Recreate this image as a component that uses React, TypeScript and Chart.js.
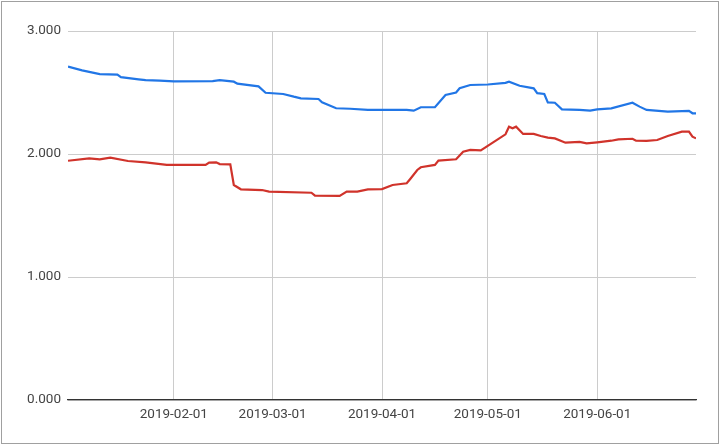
import React, { useEffect, useRef } from "react";
import { Chart, registerables } from "chart.js";

Chart.register(...registerables);

const blueDates = [
  "2019-01-02", "2019-01-06", "2019-01-11", "2019-01-16", "2019-01-17", "2019-01-22",
  "2019-01-24", "2019-01-28", "2019-02-01", "2019-02-12", "2019-02-14", "2019-02-18",
  "2019-02-19", "2019-02-25", "2019-02-27", "2019-03-04", "2019-03-07", "2019-03-09",
  "2019-03-14", "2019-03-15", "2019-03-19", "2019-03-23", "2019-03-28", "2019-04-08",
  "2019-04-10", "2019-04-12", "2019-04-16", "2019-04-19", "2019-04-22", "2019-04-23",
  "2019-04-26", "2019-05-01", "2019-05-06", "2019-05-07", "2019-05-10", "2019-05-14",
  "2019-05-15", "2019-05-17", "2019-05-18", "2019-05-20", "2019-05-22", "2019-05-27",
  "2019-05-30", "2019-06-01", "2019-06-05", "2019-06-11", "2019-06-13", "2019-06-15",
  "2019-06-21", "2019-06-27", "2019-06-28", "2019-06-29",
];
const blueValues = [
  2.71, 2.68, 2.65, 2.645, 2.625, 2.607,
  2.6, 2.596, 2.59, 2.593, 2.6, 2.588,
  2.572, 2.55, 2.498, 2.488, 2.466, 2.453,
  2.447, 2.42, 2.372, 2.368, 2.358, 2.358,
  2.352, 2.38, 2.38, 2.48, 2.5, 2.534,
  2.561, 2.565, 2.578, 2.588, 2.555, 2.534,
  2.495, 2.488, 2.42, 2.417, 2.363, 2.358,
  2.352, 2.363, 2.371, 2.417, 2.385, 2.358,
  2.344, 2.35, 2.331, 2.331,
];

const redDates = [
  "2019-01-02", "2019-01-08", "2019-01-11", "2019-01-14", "2019-01-19", "2019-01-24",
  "2019-01-30", "2019-02-10", "2019-02-11", "2019-02-13", "2019-02-14", "2019-02-17",
  "2019-02-18", "2019-02-20", "2019-02-26", "2019-02-28", "2019-03-12", "2019-03-13",
  "2019-03-20", "2019-03-22", "2019-03-25", "2019-03-28", "2019-04-01", "2019-04-04",
  "2019-04-08", "2019-04-09", "2019-04-11", "2019-04-12", "2019-04-16", "2019-04-17",
  "2019-04-22", "2019-04-24", "2019-04-26", "2019-04-29", "2019-05-06", "2019-05-07",
  "2019-05-08", "2019-05-09", "2019-05-11", "2019-05-14", "2019-05-16", "2019-05-18",
  "2019-05-20", "2019-05-23", "2019-05-27", "2019-05-29", "2019-06-01", "2019-06-05",
  "2019-06-07", "2019-06-11", "2019-06-12", "2019-06-15", "2019-06-18", "2019-06-21",
  "2019-06-25", "2019-06-27", "2019-06-28", "2019-06-29",
];
const redValues = [
  1.945, 1.965, 1.957, 1.97, 1.943, 1.932,
  1.911, 1.911, 1.93, 1.932, 1.918, 1.916,
  1.748, 1.713, 1.707, 1.694, 1.685, 1.661,
  1.659, 1.694, 1.694, 1.713, 1.715, 1.748,
  1.762, 1.797, 1.87, 1.892, 1.911, 1.946,
  1.957, 2.019, 2.033, 2.03, 2.16, 2.222,
  2.209, 2.222, 2.163, 2.163, 2.146, 2.133,
  2.127, 2.092, 2.098, 2.087, 2.095, 2.108,
  2.119, 2.124, 2.108, 2.106, 2.114, 2.146,
  2.182, 2.182, 2.141, 2.127,
];

const xTickDates = ["2019-02-01", "2019-03-01", "2019-04-01", "2019-05-01", "2019-06-01"];
const yTickValues = [0, 1, 2, 3];
const xRange = ["2019-01-02", "2019-06-29"];

function dayIndex(s: string): number {
  const [y, m, d] = s.split("-").map(Number);
  return (Date.UTC(y, m - 1, d) - Date.UTC(2019, 0, 1)) / 86400000;
}

const borderPlugin = {
  id: "outerBorder",
  afterDraw(chart: any) {
    const ctx = chart.ctx;
    ctx.save();
    ctx.strokeStyle = "#a0a0a0";
    ctx.lineWidth = 1;
    ctx.strokeRect(1.5, 1.5, 717, 442);
    ctx.restore();
  },
};

export default function App() {
  const ref = useRef<HTMLCanvasElement | null>(null);
  useEffect(() => {
    if (!ref.current) return;
    const tickDays = xTickDates.map(dayIndex);
    const labelMap: Record<number, string> = {};
    xTickDates.forEach((s) => (labelMap[dayIndex(s)] = s));
    const chart = new Chart(ref.current, {
      type: "line",
      data: {
        datasets: [
          {
            data: blueDates.map((d, i) => ({ x: dayIndex(d), y: blueValues[i] })),
            borderColor: "#2176e6",
            borderWidth: 2.2,
            pointRadius: 0,
            tension: 0,
          },
          {
            data: redDates.map((d, i) => ({ x: dayIndex(d), y: redValues[i] })),
            borderColor: "#d0332b",
            borderWidth: 2.2,
            pointRadius: 0,
            tension: 0,
          },
        ],
      },
      options: {
        animation: false,
        responsive: false,
        layout: { padding: { top: 31, right: 24, left: 0, bottom: 0 } },
        plugins: { legend: { display: false }, tooltip: { enabled: false } },
        scales: {
          x: {
            type: "linear",
            min: dayIndex(xRange[0]),
            max: dayIndex(xRange[1]),
            afterBuildTicks: (scale: any) => {
              scale.ticks = tickDays.map((v) => ({ value: v }));
            },
            afterFit: (scale: any) => {
              scale.height = 46;
            },
            grid: { color: "#cccccc", drawTicks: false, lineWidth: 1 },
            border: { color: "#333333", width: 1.2 },
            ticks: {
              padding: 7,
              color: "#444444",
              font: { family: "Roboto", size: 13.5 },
              maxRotation: 0,
              autoSkip: false,
              callback: (v: any) => labelMap[v] ?? "",
            },
          },
          y: {
            min: 0,
            max: 3,
            afterBuildTicks: (scale: any) => {
              scale.ticks = yTickValues.map((v) => ({ value: v }));
            },
            afterFit: (scale: any) => {
              scale.width = 68;
            },
            grid: { color: "#cccccc", drawTicks: false, lineWidth: 1 },
            border: { display: false },
            ticks: {
              padding: 7,
              color: "#444444",
              font: { family: "Roboto", size: 13.5 },
              callback: (v: any) => Number(v).toFixed(3),
            },
          },
        },
      },
      plugins: [borderPlugin],
    });
    return () => chart.destroy();
  }, []);
  return (
    <div style={{ position: "absolute", left: 0, top: 0, width: 720, height: 446, background: "#fff" }}>
      <canvas ref={ref} width={720} height={446} />
    </div>
  );
}
